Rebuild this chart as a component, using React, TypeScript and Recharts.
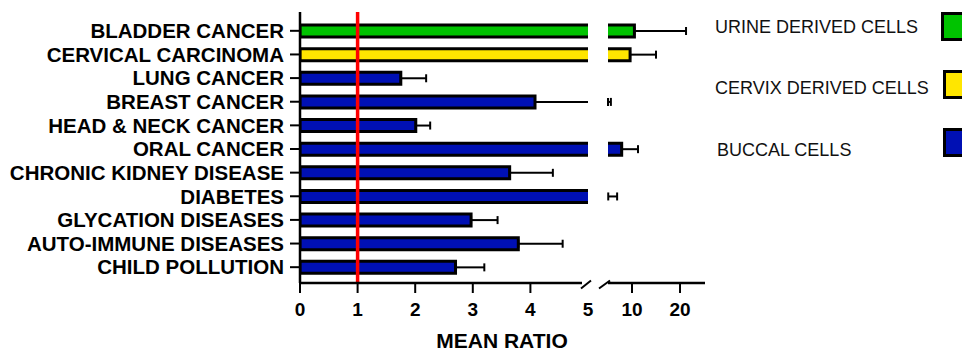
import * as React from "react"
import { Bar, BarChart, ErrorBar, ReferenceLine, XAxis, YAxis } from "recharts"

// rows, top to bottom
const categories = [
    "BLADDER CANCER",
    "CERVICAL CARCINOMA",
    "LUNG CANCER",
    "BREAST CANCER",
    "HEAD & NECK CANCER",
    "ORAL CANCER",
    "CHRONIC KIDNEY DISEASE",
    "DIABETES",
    "GLYCATION DISEASES",
    "AUTO-IMMUNE DISEASES",
    "CHILD POLLUTION",
]
const cellTypes = [
    "URINE DERIVED CELLS",
    "CERVIX DERIVED CELLS",
    "BUCCAL CELLS",
    "BUCCAL CELLS",
    "BUCCAL CELLS",
    "BUCCAL CELLS",
    "BUCCAL CELLS",
    "BUCCAL CELLS",
    "BUCCAL CELLS",
    "BUCCAL CELLS",
    "BUCCAL CELLS",
]
const meanRatio = [10.5, 9.6, 1.75, 4.08, 2.01, 7.85, 3.64, 5.05, 2.97, 3.79, 2.7]
const errorUp = [10.75, 5.4, 0.44, 1.52, 0.25, 3.4, 0.75, 1.85, 0.46, 0.77, 0.5]

const legendItems = ["URINE DERIVED CELLS", "CERVIX DERIVED CELLS", "BUCCAL CELLS"]
const legendColors = ["#00c300", "#ffe600", "#0010b4"]

const lowTicks = [0, 1, 2, 3, 4, 5]
const highTicks = [10, 20]
const BREAK = 5
const HIGH_MAX = 25.2

const FONT = '"Liberation Sans", Arial, Helvetica, sans-serif'

const data = categories.map((name, i) => {
    const v = meanRatio[i]
    const e = errorUp[i]
    const top = v + e
    return {
        name,
        color: legendColors[legendItems.indexOf(cellTypes[i])],
        value: v,
        // error bars that stay left of the break get a cap, the ones crossing it run to the break
        loErr: top <= BREAK ? [0, e] : null,
        crossErr: v < BREAK && top > BREAK ? [0, BREAK - v] : null,
        hiValue: v >= BREAK ? v : top > BREAK ? BREAK : null,
        hiErr: v >= BREAK ? [0, e] : top > BREAK ? [0, top - BREAK] : null,
    }
})

const BarShape = (props: any) => {
    const { x, y, width, height, payload, side } = props
    if (!(width >= 1)) return null
    const fill = payload.color
    const x2 = x + width
    const y2 = y + height
    let d = `M${x},${y}H${x2}V${y2}H${x}Z`
    if (side === "high") d = `M${x},${y}H${x2}V${y2}H${x}`
    if (side === "low" && payload.value > BREAK) d = `M${x2},${y}H${x}V${y2}H${x2}`
    return (
        <g>
            <rect x={x} y={y} width={width} height={height} fill={fill} />
            <path d={d} fill="none" stroke="#000" strokeWidth={3} />
        </g>
    )
}

const axisLine = { stroke: "#000", strokeWidth: 2.5 }
const tickLine = { stroke: "#000", strokeWidth: 2 }
const xTick = { fill: "#000", fontSize: 19, fontWeight: "bold", fontFamily: FONT }
const yTick = { fill: "#000", fontSize: 20.5, fontWeight: "bold", fontFamily: FONT }
const yPadding = { top: 7, bottom: 4 }

export default function App() {
    return (
        <div
            style={{
                position: "absolute",
                left: 0,
                top: 0,
                width: 962,
                height: 352,
                overflow: "hidden",
                background: "#fff",
                fontFamily: FONT,
            }}
        >
            <div style={{ position: "absolute", left: 0, top: 0 }}>
                <BarChart
                    width={596}
                    height={352}
                    layout="vertical"
                    data={data}
                    margin={{ top: 12, right: 8, bottom: 0, left: 0 }}
                >
                    <XAxis
                        type="number"
                        domain={[0, BREAK]}
                        ticks={lowTicks}
                        allowDataOverflow
                        height={69}
                        axisLine={axisLine}
                        tickLine={tickLine}
                        tickSize={10}
                        tickMargin={10}
                        tick={xTick}
                        interval={0}
                    />
                    <YAxis
                        type="category"
                        dataKey="name"
                        width={300}
                        padding={yPadding}
                        axisLine={axisLine}
                        tickLine={tickLine}
                        tickSize={10}
                        tickMargin={6}
                        tick={yTick}
                        interval={0}
                    />
                    <Bar
                        dataKey="value"
                        barSize={12}
                        isAnimationActive={false}
                        shape={(p: any) => <BarShape {...p} side="low" />}
                    >
                        <ErrorBar dataKey="loErr" direction="x" width={4} stroke="#000" strokeWidth={2} />
                        <ErrorBar dataKey="crossErr" direction="x" width={0} stroke="#000" strokeWidth={2} />
                    </Bar>
                    <ReferenceLine x={1} stroke="#ff0000" strokeWidth={3.5} />
                </BarChart>
            </div>

            <div style={{ position: "absolute", left: 596, top: 0 }}>
                <BarChart
                    width={124}
                    height={352}
                    layout="vertical"
                    data={data}
                    margin={{ top: 12, right: 15, bottom: 0, left: 12 }}
                >
                    <XAxis
                        type="number"
                        domain={[BREAK, HIGH_MAX]}
                        ticks={highTicks}
                        allowDataOverflow
                        height={69}
                        axisLine={axisLine}
                        tickLine={tickLine}
                        tickSize={10}
                        tickMargin={10}
                        tick={xTick}
                        interval={0}
                    />
                    <YAxis type="category" dataKey="name" hide width={0} padding={yPadding} />
                    <Bar
                        dataKey="hiValue"
                        barSize={12}
                        isAnimationActive={false}
                        shape={(p: any) => <BarShape {...p} side="high" />}
                    >
                        <ErrorBar dataKey="hiErr" direction="x" width={4} stroke="#000" strokeWidth={2} />
                    </Bar>
                </BarChart>
            </div>

            {/* axis break marks */}
            <svg
                width={962}
                height={352}
                style={{ position: "absolute", left: 0, top: 0, pointerEvents: "none" }}
            >
                <rect x={582} y={278} width={25} height={17} fill="#fff" />
                <line x1={581} y1={288.5} x2={591} y2={280.5} stroke="#000" strokeWidth={2} />
                <line x1={599} y1={288.5} x2={610} y2={280.5} stroke="#000" strokeWidth={2} />
            </svg>

            <div
                style={{
                    position: "absolute",
                    left: 502,
                    top: 331,
                    transform: "translateX(-50%)",
                    fontSize: 21,
                    lineHeight: "20px",
                    fontWeight: "bold",
                    color: "#000",
                    whiteSpace: "nowrap",
                }}
            >
                MEAN RATIO
            </div>

            {/* legend */}
            {legendItems.map((item, i) => (
                <React.Fragment key={item}>
                    <div
                        style={{
                            position: "absolute",
                            left: i === 2 ? 717 : 715,
                            top: [18, 79, 141][i],
                            fontSize: 18,
                            lineHeight: "18px",
                            color: "#111",
                            whiteSpace: "nowrap",
                        }}
                    >
                        {item}
                    </div>
                    <div
                        style={{
                            position: "absolute",
                            left: i === 0 ? 941 : 943,
                            top: [12, 70, 128][i],
                            width: 23,
                            height: 23,
                            border: "3px solid #000",
                            background: legendColors[i],
                        }}
                    />
                </React.Fragment>
            ))}
        </div>
    )
}
